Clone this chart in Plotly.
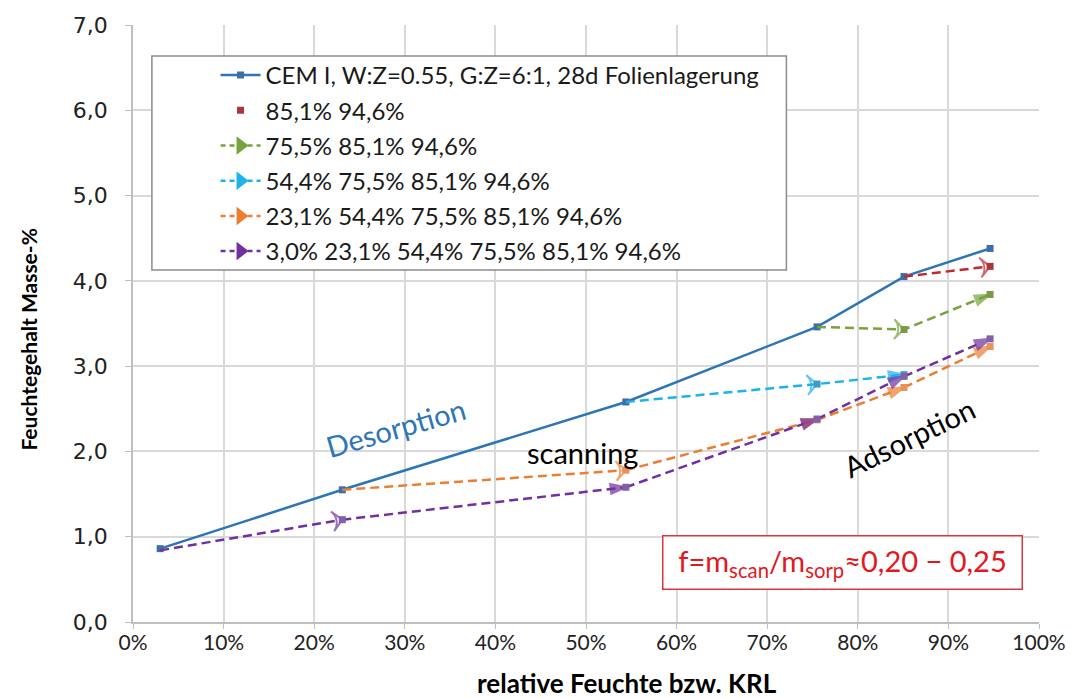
import plotly.graph_objects as go

# relative humidity steps (fraction) and moisture content in mass-%
rh_des = [0.030, 0.231, 0.544, 0.755, 0.851, 0.946]
w_des = [0.86, 1.55, 2.58, 3.46, 4.05, 4.38]

rh_s1 = [0.851, 0.946]
w_s1 = [4.05, 4.17]

rh_s2 = [0.755, 0.851, 0.946]
w_s2 = [3.46, 3.43, 3.84]

rh_s3 = [0.544, 0.755, 0.851]
w_s3 = [2.58, 2.79, 2.90]

rh_s4 = [0.231, 0.544, 0.755, 0.851, 0.946]
w_s4 = [1.55, 1.78, 2.37, 2.75, 3.23]

rh_s5 = [0.030, 0.231, 0.544, 0.755, 0.851, 0.946]
w_s5 = [0.84, 1.20, 1.58, 2.38, 2.88, 3.32]

names = [
    "CEM I, W:Z=0.55, G:Z=6:1, 28d Folienlagerung",
    "85,1% 94,6%",
    "75,5% 85,1% 94,6%",
    "54,4% 75,5% 85,1% 94,6%",
    "23,1% 54,4% 75,5% 85,1% 94,6%",
    "3,0% 23,1% 54,4% 75,5% 85,1% 94,6%",
]

x_ticks = [i / 10 for i in range(11)]
y_ticks = [float(i) for i in range(8)]

C_DES = "#2E75B6"
SCAN = [
    (rh_s1, w_s1, "#C0282D", "#A5373D", names[1]),
    (rh_s2, w_s2, "#77A33C", "#7A9A4A", names[2]),
    (rh_s3, w_s3, "#1CB2EA", "#3A9CC0", names[3]),
    (rh_s4, w_s4, "#ED7D31", "#E9925A", names[4]),
    (rh_s5, w_s5, "#7030A0", "#8060A8", names[5]),
]
DASH = "9px,5px"
TXT = "Lato"

fig = go.Figure()

# desorption branch
fig.add_trace(go.Scatter(
    x=rh_des, y=w_des, mode="lines+markers", showlegend=False,
    line=dict(color=C_DES, width=2.5),
    marker=dict(symbol="square", size=7, color="#3F6EA6"),
))

# scanning branches: dashed lines with arrow heads at each new step
for xs, ys, col, mcol, nm in SCAN:
    n = len(xs)
    symbols = ["square"] + ["arrow-wide-open"] + ["arrow"] * (n - 2)
    sizes = [7] + [14] + [16] * (n - 2)
    fig.add_trace(go.Scatter(
        x=xs, y=ys, mode="lines+markers", showlegend=False,
        line=dict(color=col, width=2.5, dash=DASH),
        marker=dict(symbol=symbols, size=sizes, color=col, angleref="previous",
                    line=dict(color=col, width=2)),
    ))
    fig.add_trace(go.Scatter(
        x=xs[1:], y=ys[1:], mode="markers", showlegend=False,
        marker=dict(symbol="square", size=7, color=mcol),
    ))

# legend entries
fig.add_trace(go.Scatter(
    x=[None], y=[None], mode="lines+markers", name=names[0], legendgroup="g0",
    line=dict(color=C_DES, width=2.5),
    marker=dict(symbol="square", size=7, color="#3F6EA6"),
))
for i, (xs, ys, col, mcol, nm) in enumerate(SCAN):
    if i == 0:
        fig.add_trace(go.Scatter(
            x=[None], y=[None], mode="markers", name=nm, legendgroup=f"g{i+1}",
            marker=dict(symbol="square", size=7, color=mcol),
        ))
    else:
        fig.add_trace(go.Scatter(
            x=[None], y=[None], mode="lines+markers", name=nm, legendgroup=f"g{i+1}",
            line=dict(color=col, width=2.5, dash="5px,4px"),
            marker=dict(symbol="triangle-right", size=16, color=col),
        ))

PX0, PX1, PY0, PY1 = 133, 1044, 25, 622


def px(xp):
    return (xp - PX0) / (PX1 - PX0)


def py(yp):
    return (PY1 - yp) / (PY1 - PY0)


def note(text, x, y, size, color="#000000", angle=0, **kw):
    return dict(text=text, xref="paper", yref="paper", x=px(x), y=py(y),
                xanchor="center", yanchor="middle", textangle=angle,
                showarrow=False, font=dict(family=TXT, size=size, color=color), **kw)


fig.update_layout(
    width=1078, height=698,
    margin=dict(l=PX0, r=1078 - PX1, t=PY0, b=698 - PY1, pad=0),
    paper_bgcolor="white", plot_bgcolor="white",
    separators=", ",
    font=dict(family=TXT, size=18, color="#000000"),
    legend=dict(
        x=px(216), y=py(53), xanchor="left", yanchor="top",
        bgcolor="rgba(0,0,0,0)", borderwidth=0,
        font=dict(family=TXT, size=24, color="#1a1a1a"),
        itemwidth=40, tracegroupgap=1, traceorder="grouped",
    ),
    xaxis=dict(
        range=[0, 1], tickvals=x_ticks, tickformat=".0%",
        showgrid=True, gridcolor="#D9D9D9", gridwidth=1.5,
        showline=True, linecolor="#BFBFBF", linewidth=1.5,
        ticks="outside", ticklen=5, tickcolor="#BFBFBF",
        ticklabelstandoff=-4,
        tickfont=dict(family=TXT, size=21, color="#222222"),
        zeroline=False, fixedrange=True,
    ),
    yaxis=dict(
        range=[0, 7], tickvals=y_ticks, tickformat=".1f",
        showgrid=True, gridcolor="#D9D9D9", gridwidth=1.5,
        showline=True, linecolor="#BFBFBF", linewidth=1.5,
        ticks="outside", ticklen=6, tickcolor="#BFBFBF",
        ticklabelstandoff=13,
        tickfont=dict(family="DejaVu Sans", size=22, color="#222222"),
        zeroline=False, fixedrange=True,
    ),
    shapes=[dict(
        type="rect", xref="paper", yref="paper", layer="above",
        x0=px(152), x1=px(790), y0=py(270), y1=py(56),
        fillcolor="white", line=dict(color="#8C8C8C", width=1.5),
    )],
    annotations=[
        note("<b>Feuchtegehalt Masse-%</b>", 27, 340, 21, angle=-90),
        note("<b>relative Feuchte bzw. KRL</b>", 630, 683, 26),
        note("Desorption", 397, 427, 29, color=C_DES, angle=-16),
        note("scanning", 585, 452, 29),
        note("Adsorption", 913, 437, 29, angle=-26),
        note("f=m<sub>scan</sub>/m<sub>sorp</sub>≈0,20 − 0,25", 846, 562, 29,
             color="#E3171E", width=352, height=46, borderpad=3,
             bordercolor="#D9363E", borderwidth=1.5, bgcolor="white"),
    ],
)

fig.write_html("out.html")
